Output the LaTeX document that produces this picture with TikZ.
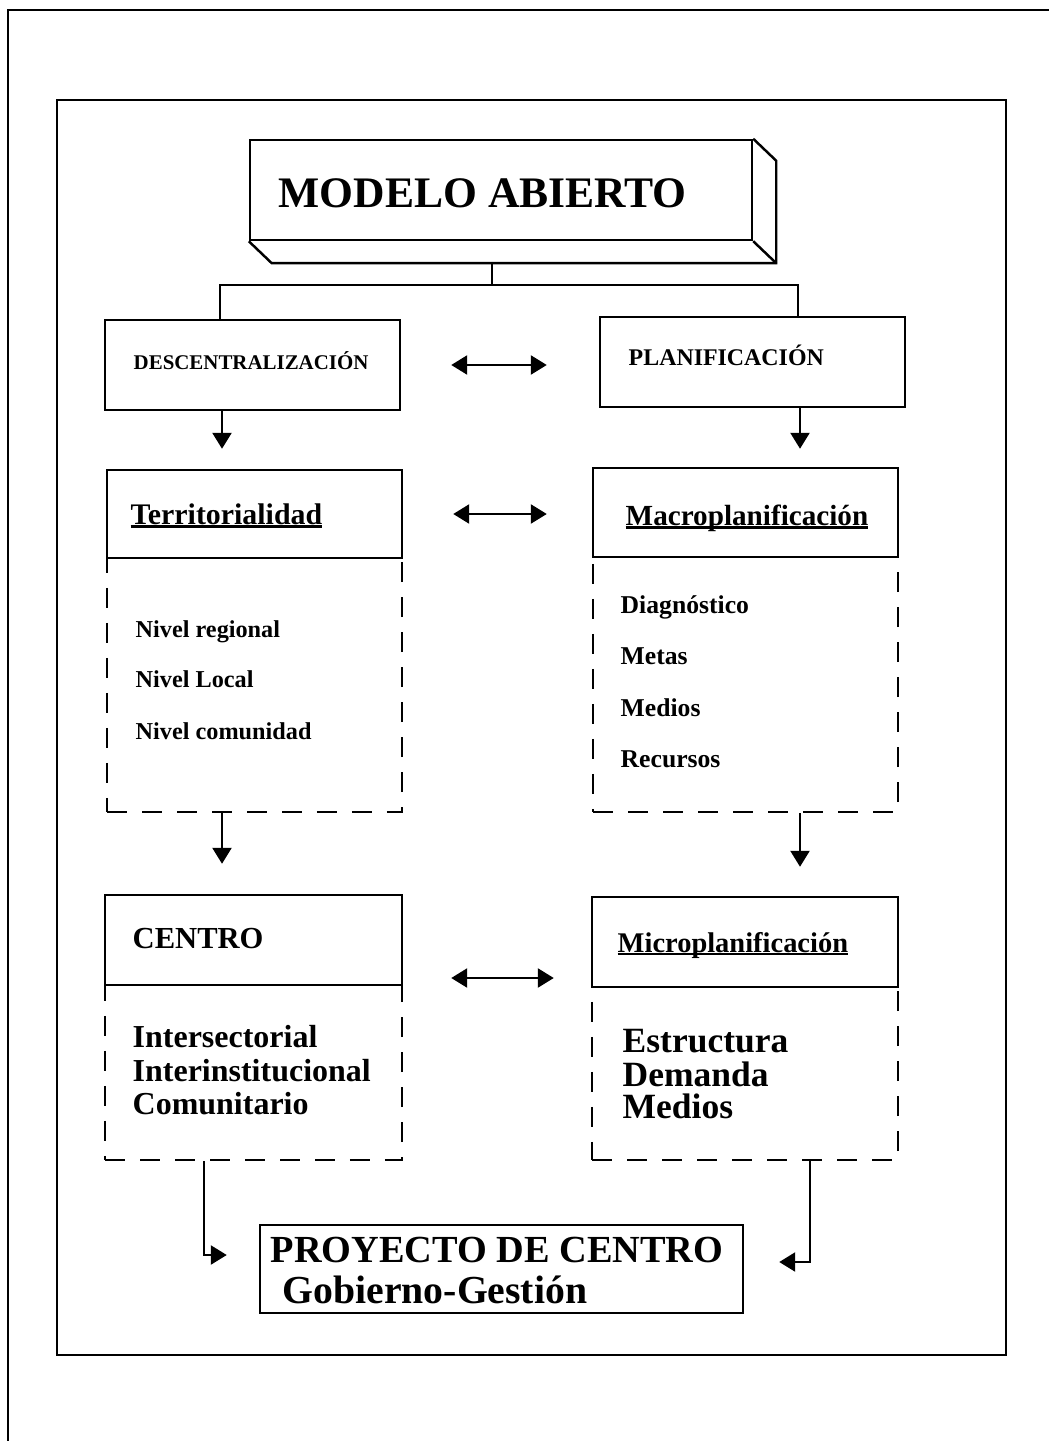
\documentclass[tikz,border=0pt]{standalone}
\usepackage{fontspec}
\setmainfont{Liberation Serif}
\usepackage{tikz}
\usetikzlibrary{arrows.meta}

\newcommand{\fsz}[1]{\fontsize{#1}{#1}\selectfont}
\newcommand{\ulbar}[1]{\leavevmode\setbox0\hbox{#1}\rlap{\rule[-0.12em]{\wd0}{0.07em}}\box0}

\tikzset{
  box/.style={draw, line width=0.7pt, fill=white, inner sep=0pt},
  body/.style={draw, line width=0.7pt, dash pattern=on 0.2cm off 0.15cm, inner sep=0pt},
  txt/.style={anchor=base west, inner sep=0pt, font=\bfseries},
  arr/.style={line width=0.7pt, -{Triangle[length=1.6mm,width=1.9mm]}},
  dbl/.style={line width=0.7pt, {Triangle[length=1.6mm,width=1.9mm]}-{Triangle[length=1.6mm,width=1.9mm]}}
}

\begin{document}
\begin{tikzpicture}
\useasboundingbox (0,0) rectangle (10.49,-14.41);
% page frame
\draw[line width=0.8pt] (0.08,-14.41) -- (0.08,-0.10) -- (10.49,-0.10);
\draw[line width=0.8pt] (0.57,-1.00) rectangle (10.06,-13.55);

% top box
\node[box, minimum width=5.02cm, minimum height=1.00cm] (model) at (5.01,-1.90) {};
\draw[line width=0.7pt] (model.south west) -- ++(0.23,-0.22) -| ([shift={(0.23,-0.22)}]model.north east) -- (model.north east);
\draw[line width=0.7pt] (model.south east) -- ++(0.23,-0.22);
\node[txt] (modelt) at (2.78,-2.08) {\fsz{12.4}MODELO ABIERTO};
\coordinate (mb) at (4.92,-2.62);
\coordinate (split) at (4.92,-2.85);

% first row
\node[box, minimum width=2.95cm, minimum height=0.90cm] (desc) at (2.525,-3.65) {};
\node[box, minimum width=3.05cm, minimum height=0.90cm] (plan) at (7.525,-3.62) {};
\node[txt] (desct) at (1.33,-3.70) {\fsz{5.95}DESCENTRALIZACIÓN};
\node[txt] (plant) at (6.28,-3.66) {\fsz{6.8}PLANIFICACIÓN};

\draw[line width=0.7pt] (mb) -- (split);
\draw[line width=0.7pt] (split) -| ([xshift=-0.325cm]desc.north);
\draw[line width=0.7pt] (split) -| ([xshift=0.455cm]plan.north);
\draw[dbl, shorten <=0.5cm, shorten >=0.52cm] (desc.east) -- (plan.west |- desc.east);

% second row
\node[body, minimum width=2.95cm, minimum height=3.42cm] (terrbody) at (2.545,-6.41) {};
\node[body, minimum width=3.05cm, minimum height=3.44cm] (macrobody) at (7.455,-6.40) {};
\node[box, minimum width=2.95cm, minimum height=0.88cm] (terr) at (2.545,-5.14) {};
\node[box, minimum width=3.05cm, minimum height=0.89cm] (macro) at (7.455,-5.125) {};
\node[txt] (terrt) at (1.30,-5.24) {\fsz{8.5}\ulbar{Territorialidad}};
\node[txt] (macrot) at (6.25,-5.25) {\fsz{8.3}\ulbar{Macroplanificación}};

\draw[arr, shorten >=0.2cm] ([xshift=-0.305cm]desc.south) -- ([xshift=-0.305cm]desc.south |- terr.north);
\draw[arr, shorten >=0.18cm] ([xshift=0.475cm]plan.south) -- ([xshift=0.475cm]plan.south |- macro.north);
\draw[dbl, shorten <=0.5cm, shorten >=0.45cm] (terr.east) -- (macro.west |- terr.east);

\node[txt] (niv1) at (1.35,-6.37) {\fsz{6.9}Nivel regional};
\node[txt] (niv2) at (1.35,-6.87) {\fsz{6.9}Nivel Local};
\node[txt] (niv3) at (1.35,-7.39) {\fsz{6.9}Nivel comunidad};
\node[txt] (mac1) at (6.20,-6.13) {\fsz{7.3}Diagnóstico};
\node[txt] (mac2) at (6.20,-6.64) {\fsz{7.3}Metas};
\node[txt] (mac3) at (6.20,-7.16) {\fsz{7.3}Medios};
\node[txt] (mac4) at (6.20,-7.67) {\fsz{7.3}Recursos};

% third row
\node[body, minimum width=2.97cm, minimum height=2.65cm] (centrobody) at (2.535,-10.275) {};
\node[body, minimum width=3.06cm, minimum height=2.63cm] (microbody) at (7.45,-10.285) {};
\node[box, minimum width=2.97cm, minimum height=0.90cm] (centro) at (2.535,-9.40) {};
\node[box, minimum width=3.06cm, minimum height=0.90cm] (micro) at (7.45,-9.42) {};
\node[txt] (centrot) at (1.32,-9.48) {\fsz{8.7}CENTRO};
\node[txt] (microt) at (6.17,-9.52) {\fsz{8.1}\ulbar{Microplanificación}};

\draw[arr, shorten >=0.30cm] ([xshift=-0.325cm]terrbody.south) -- ([xshift=-0.325cm]terrbody.south |- centro.north);
\draw[arr, shorten >=0.29cm] ([xshift=0.545cm]macrobody.south) -- ([xshift=0.545cm]macrobody.south |- micro.north);
\draw[dbl, shorten <=0.48cm, shorten >=0.37cm] ([yshift=-0.38cm]centro.east) -- ([yshift=-0.38cm]centro.east -| micro.west);

\node[txt] (cen1) at (1.32,-10.47) {\fsz{9.1}Intersectorial};
\node[txt] (cen2) at (1.32,-10.81) {\fsz{9.1}Interinstitucional};
\node[txt] (cen3) at (1.32,-11.14) {\fsz{9.1}Comunitario};
\node[txt] (mic1) at (6.22,-10.52) {\fsz{10.1}Estructura};
\node[txt] (mic2) at (6.22,-10.86) {\fsz{10.1}Demanda};
\node[txt] (mic3) at (6.22,-11.18) {\fsz{10.1}Medios};

% bottom box
\node[box, minimum width=4.83cm, minimum height=0.88cm] (proy) at (5.015,-12.69) {};
\node[txt] (proyt) at (2.70,-12.62) {\fsz{10.9}PROYECTO DE CENTRO};
\node[txt] (proyg) at (2.82,-13.03) {\fsz{11.3}Gobierno-Gestión};

\draw[arr, shorten >=0.32cm] ([xshift=-0.495cm]centrobody.south) |- ([yshift=0.14cm]proy.west);
\draw[arr, shorten >=0.35cm] ([xshift=0.65cm]microbody.south) |- ([yshift=0.07cm]proy.east);
\end{tikzpicture}
\end{document}
